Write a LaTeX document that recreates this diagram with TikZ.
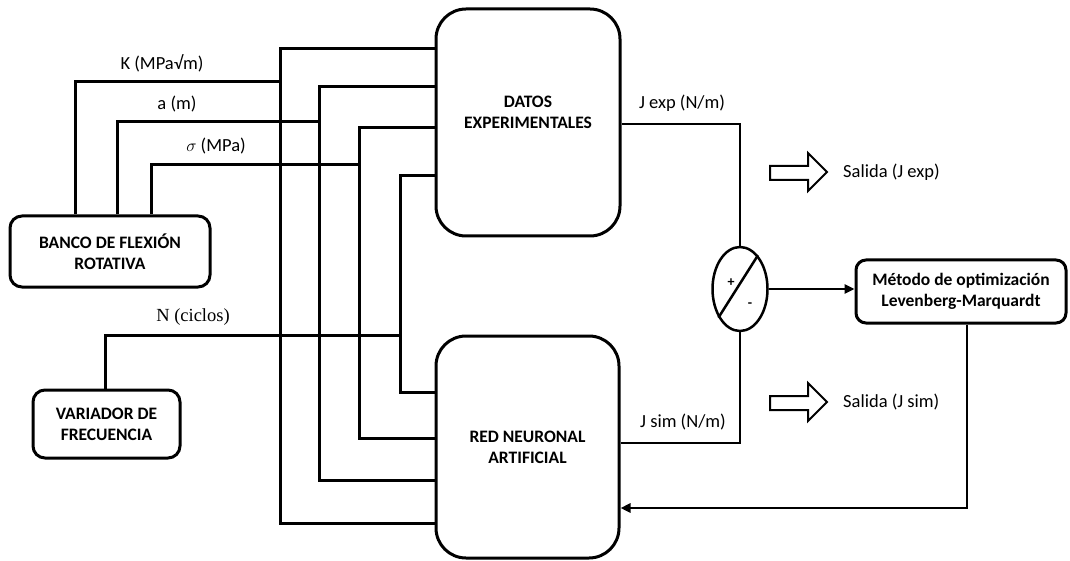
\documentclass[tikz,border=0pt]{standalone}
\usepackage{fontspec}
\setmainfont{Carlito}
\newfontfamily\serifN{Liberation Serif}
\usetikzlibrary{shapes.geometric,arrows.meta}
\begin{document}
\begin{tikzpicture}[x=1pt,y=-1pt,
  wire/.style={line width=3pt},
  thinwire/.style={line width=2.5pt},
  rbox/.style={draw, line width=3pt, rounded corners=#1, inner sep=0pt, align=center,
    font=\fontsize{17.5}{21}\selectfont\bfseries},
  boxtext/.style={inner sep=0pt, align=center, font=\fontsize{17.5}{21}\selectfont\bfseries},
  lbl/.style={font=\fontsize{18.5}{22}\selectfont, inner sep=0pt},
  arr/.style={-{Triangle[length=10pt,width=9pt]}},
  blockarrow/.style={draw, line width=2pt, fill=white, line join=miter}
]
\useasboundingbox (0,0) rectangle (1070,561);

% boxes
\node[rbox=30, minimum width=184pt, minimum height=227pt] (datos) at (528,122.5) {};
\node[boxtext] (datostxt) at (528,112) {DATOS\\EXPERIMENTALES};
\node[rbox=30, minimum width=183pt, minimum height=222pt] (red) at (527.5,447) {RED NEURONAL\\ARTIFICIAL};
\node[rbox=12, minimum width=200pt, minimum height=71pt] (banco) at (110,251.5) {BANCO DE FLEXIÓN\\ROTATIVA};
\node[rbox=12, minimum width=147pt, minimum height=68pt] (variador) at (106.5,424) {VARIADOR DE\\FRECUENCIA};
\node[rbox=10, minimum width=210pt, minimum height=63pt] (metodo) at (961,291.5) {Método de optimización\\Levenberg-Marquardt};
\node[draw, ellipse, line width=2.5pt, minimum width=55pt, minimum height=84pt, inner sep=0pt] (sum) at (740,289) {};

% K wire
\coordinate (Kb) at (75,82); \coordinate (Kv) at (280,82);
\coordinate (Kt) at (280,49); \coordinate (Kd) at (280,523);
\draw[wire] (banco.north -| Kb) -- (Kb) -- (Kv);
\draw[wire] (datos.west |- Kt) -- (Kt) -- (Kd) -- (red.west |- Kd);
% a wire
\coordinate (Ab) at (117,122); \coordinate (Av) at (319,122);
\coordinate (At) at (319,87); \coordinate (Ad) at (319,480);
\draw[wire] (banco.north -| Ab) -- (Ab) -- (Av);
\draw[wire] (datos.west |- At) -- (At) -- (Ad) -- (red.west |- Ad);
% sigma wire
\coordinate (Sb) at (151,165); \coordinate (Sv) at (359,165);
\coordinate (St) at (359,128); \coordinate (Sd) at (359,438);
\draw[wire] (banco.north -| Sb) -- (Sb) -- (Sv);
\draw[wire] (datos.west |- St) -- (St) -- (Sd) -- (red.west |- Sd);
% N wire
\coordinate (Nb) at (105,335); \coordinate (Nv) at (400,335);
\coordinate (Nt) at (400,176); \coordinate (Nd) at (400,392);
\draw[wire] (variador.north -| Nb) -- (Nb) -- (Nv);
\draw[wire] (datos.west |- Nt) -- (Nt) -- (Nd) -- (red.west |- Nd);

% labels
\node[lbl] (lk) at (162,63) {K (MPa√m)};
\node[lbl] (la) at (177,104) {a (m)};
\node[lbl] (ls) at (216,146) {$\sigma$ (MPa)};
\node[lbl, font=\serifN\fontsize{18.5}{22}\selectfont] (ln) at (193,317) {N (ciclos)};
\node[lbl] (lje) at (682,103) {J exp (N/m)};
\node[lbl] (ljs) at (683,422) {J sim (N/m)};

% outputs to comparator
\coordinate (je) at (740,124);
\draw[thinwire] (datos.east |- je) -- (je) -- (sum.north);
\coordinate (js) at (740,443);
\draw[thinwire] (red.east |- js) -- (js) -- (sum.south);
\draw[line width=2.5pt] (sum.233) -- (sum.62);
\node[inner sep=0pt, font=\fontsize{14}{16}\selectfont\bfseries] (plus) at (731,283) {+};
\node[inner sep=0pt, font=\fontsize{14}{16}\selectfont\bfseries] (minus) at (750,305) {-};

\draw[thinwire, arr] (sum.east) -- (sum.east -| metodo.west);
\coordinate (fb) at (967,508);
\draw[thinwire, arr] (metodo.south -| fb) -- (fb) -- (fb -| red.east);

% block arrows
\draw[blockarrow] (770,166) -- (808,166) -- (808,153) -- (827,172) -- (808,191) -- (808,180) -- (770,180) -- cycle;
\draw[blockarrow] (770,396) -- (808,396) -- (808,383) -- (827,402) -- (808,421) -- (808,410) -- (770,410) -- cycle;
\node[lbl, anchor=west] (s1) at (843,172) {Salida (J exp)};
\node[lbl, anchor=west] (s2) at (843,402) {Salida (J sim)};
\end{tikzpicture}
\end{document}
